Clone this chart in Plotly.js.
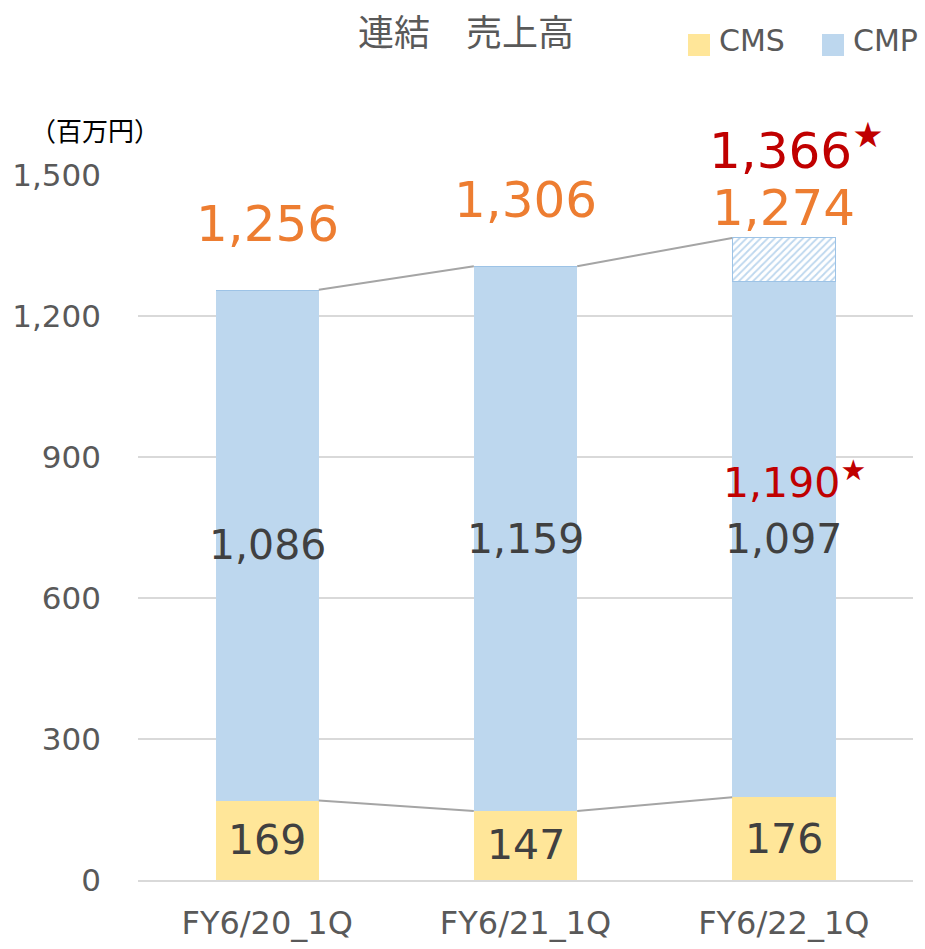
<!DOCTYPE html>
<html>
<head>
<meta charset="utf-8">
<script src="https://cdn.plot.ly/plotly-3.0.1.min.js"></script>
<style>
  html, body { margin: 0; padding: 0; background: #ffffff; }
  #chart { width: 925px; height: 949px; }
</style>
</head>
<body>
<div id="chart"></div>
<script>
// --- data ---
const categories = ['FY6/20_1Q', 'FY6/21_1Q', 'FY6/22_1Q'];
const cmsValues = [169, 147, 176];
const cmpValues = [1086, 1159, 1097];
const totalValues = [1256, 1306, 1274];
const planTotal = [null, null, 1366];   // red star figures (plan)
const planCmp = [null, null, 1190];
const yTicks = [0, 300, 600, 900, 1200, 1500];

const FONT = '"DejaVu Sans", "Noto Sans CJK JP", sans-serif';
const CJK = '"Noto Sans CJK JP", "DejaVu Sans", sans-serif';
const BAR_W = 0.4;

function fmt(v) {
    return v.toLocaleString('en-US');
}

const xs = categories.map((c, i) => i);

// hatched part = plan total minus what is actually stacked
const hatchValues = planTotal.map((p, i) => p === null ? 0 : p - cmsValues[i] - cmpValues[i]);

// connector lines between bar edges
function connector(tops) {
    const lx = [], ly = [];
    for (let i = 0; i < xs.length - 1; i++) {
        lx.push(xs[i] + BAR_W / 2, xs[i + 1] - BAR_W / 2, null);
        ly.push(tops[i], tops[i + 1], null);
    }
    return { lx, ly };
}
const topLine = connector(totalValues.map((t, i) => planTotal[i] !== null ? planTotal[i] : t));
const bottomLine = connector(cmsValues);

const data = [
    {
        type: 'bar', x: xs, y: cmsValues, name: 'CMS', width: BAR_W,
        marker: { color: '#FFE699' }, showlegend: false, hoverinfo: 'skip'
    },
    {
        type: 'bar', x: xs, y: cmpValues, name: 'CMP', width: BAR_W,
        marker: { color: '#BDD7EE' }, showlegend: false, hoverinfo: 'skip'
    },
    {
        type: 'bar', x: xs, y: hatchValues, name: 'plan', width: BAR_W,
        marker: {
            color: '#ffffff',
            line: { color: '#9DC3E6', width: 1 },
            pattern: { shape: '/', fgcolor: '#BDD7EE', bgcolor: '#ffffff', size: 5, solidity: 0.35 }
        },
        showlegend: false, hoverinfo: 'skip'
    },
    {
        type: 'scatter', mode: 'lines', x: topLine.lx, y: topLine.ly,
        line: { color: '#A5A5A5', width: 2 }, showlegend: false, hoverinfo: 'skip'
    },
    {
        type: 'scatter', mode: 'lines', x: bottomLine.lx, y: bottomLine.ly,
        line: { color: '#A5A5A5', width: 2 }, showlegend: false, hoverinfo: 'skip'
    }
];

const annotations = [];

xs.forEach((x, i) => {
    // CMS value in the middle of the yellow part
    annotations.push({
        x: x, y: cmsValues[i] / 2, text: fmt(cmsValues[i]), showarrow: false,
        font: { family: FONT, size: 41, color: '#404040' }, yanchor: 'middle'
    });
    // CMP value in the middle of the blue part
    annotations.push({
        x: x, y: cmsValues[i] + cmpValues[i] / 2, text: fmt(cmpValues[i]), showarrow: false,
        font: { family: FONT, size: 41, color: '#404040' }, yanchor: 'middle'
    });
    // total above the bar
    annotations.push({
        x: x, y: totalValues[i], text: fmt(totalValues[i]), showarrow: false,
        font: { family: FONT, size: 50, color: '#ED7D31' }, yanchor: 'middle',
        yshift: planTotal[i] !== null ? 73 : 66
    });
    if (planTotal[i] !== null) {
        annotations.push({
            x: x, y: planTotal[i], text: fmt(planTotal[i]) + '<sup>★</sup>', showarrow: false,
            font: { family: FONT, size: 50, color: '#C00000' }, yanchor: 'middle',
            yshift: 90, xshift: 13
        });
    }
    if (planCmp[i] !== null) {
        annotations.push({
            x: x, y: cmsValues[i] + cmpValues[i] / 2, text: fmt(planCmp[i]) + '<sup>★</sup>', showarrow: false,
            font: { family: FONT, size: 41, color: '#C00000' }, yanchor: 'middle',
            yshift: 59, xshift: 11
        });
    }
});

// unit label
annotations.push({
    xref: 'paper', yref: 'paper', x: -0.055, y: 1.064, text: '（百万円）', showarrow: false,
    font: { family: CJK, size: 26, color: '#000000' }, xanchor: 'center', yanchor: 'middle'
});

// hand-made legend (big square swatches like the original)
const legendItems = [
    { name: 'CMS', color: '#FFE699', x0: 688 },
    { name: 'CMP', color: '#BDD7EE', x0: 822 }
];
const shapes = [];
const px = v => (v - 138) / 775;
const py = v => (880 - v) / 705;
legendItems.forEach(item => {
    shapes.push({
        type: 'rect', xref: 'paper', yref: 'paper',
        x0: px(item.x0), x1: px(item.x0 + 22), y0: py(56), y1: py(34),
        fillcolor: item.color, line: { width: 0 }
    });
    annotations.push({
        xref: 'paper', yref: 'paper', x: px(item.x0 + 29), y: py(41), text: item.name, showarrow: false,
        font: { family: FONT, size: 30, color: '#595959' }, xanchor: 'left', yanchor: 'middle'
    });
});

const layout = {
    width: 925,
    height: 949,
    margin: { l: 138, r: 12, t: 175, b: 69 },
    paper_bgcolor: '#ffffff',
    plot_bgcolor: '#ffffff',
    barmode: 'stack',
    showlegend: false,
    hovermode: false,
    title: {
        text: '連結　売上高',
        font: { family: CJK, size: 36, color: '#595959' },
        x: 466 / 925, xanchor: 'center', xref: 'container',
        y: 1 - 33 / 949, yanchor: 'middle', yref: 'container'
    },
    xaxis: {
        range: [-0.5, categories.length - 0.5],
        tickvals: xs,
        ticktext: categories,
        ticks: '',
        showgrid: false,
        zeroline: false,
        showline: true,
        linecolor: '#D9D9D9',
        linewidth: 2,
        ticklabelstandoff: 14,
        tickfont: { family: FONT, size: 32, color: '#595959' }
    },
    yaxis: {
        range: [0, 1500],
        tickvals: yTicks,
        ticktext: yTicks.map(fmt),
        ticks: '',
        showgrid: true,
        gridcolor: '#D9D9D9',
        gridwidth: 2,
        zeroline: false,
        showline: false,
        ticklabelstandoff: 36,
        tickfont: { family: FONT, size: 31, color: '#595959' }
    },
    annotations: annotations,
    shapes: shapes
};

Plotly.newPlot('chart', data, layout, { staticPlot: true, displayModeBar: false });
</script>
</body>
</html>
